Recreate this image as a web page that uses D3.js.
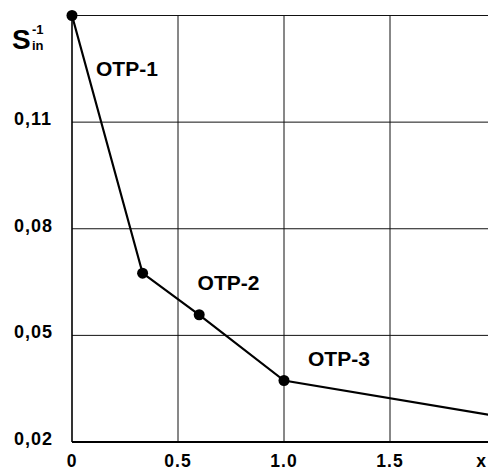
<!DOCTYPE html>
<html>
<head>
<meta charset="utf-8">
<script src="https://cdn.jsdelivr.net/npm/d3@7"></script>
<style>
  html, body { margin: 0; padding: 0; background: #fff; }
  svg { display: block; font-family: "Liberation Sans", Arial, sans-serif; }
</style>
</head>
<body>
<svg id="chart" width="488" height="472"></svg>
<script>
// Inverse selectivity S_in^-1 versus composition x for the OTP series
const xValues = [0, 0.333, 0.60, 1.0, 2.0];
const yValues = [0.140, 0.0675, 0.0558, 0.0373, 0.0273];
const pointLabels = ["OTP-1", "OTP-2", null, "OTP-3"];
const markedPoints = [0, 1, 2, 3];

const xTicks = [0, 0.5, 1.0, 1.5];
const xTickLabels = ["0", "0.5", "1.0", "1.5"];
const yTicks = [0.02, 0.05, 0.08, 0.11, 0.14];
const yTickLabels = ["0,02", "0,05", "0,08", "0,11", ""];

const svg = d3.select("#chart");
const W = 488, H = 472;

const x = d3.scaleLinear().domain([0, 2.0]).range([72, 496]);
const y = d3.scaleLinear().domain([0.02, 0.14]).range([442, 15.5]);

// grid
const grid = svg.append("g").attr("stroke", "#111").attr("stroke-width", 1);
grid.selectAll("line.v").data(xTicks.slice(1)).join("line")
  .attr("x1", d => x(d)).attr("x2", d => x(d))
  .attr("y1", y(0.14)).attr("y2", y(0.02));
grid.selectAll("line.h").data(yTicks.slice(1)).join("line")
  .attr("x1", x(0)).attr("x2", W)
  .attr("y1", d => y(d)).attr("y2", d => y(d));

// axes frame (left and bottom)
svg.append("line").attr("x1", x(0)).attr("x2", x(0))
  .attr("y1", y(0.14)).attr("y2", y(0.02))
  .attr("stroke", "#000").attr("stroke-width", 1.6);
svg.append("line").attr("x1", x(0)).attr("x2", W)
  .attr("y1", y(0.02)).attr("y2", y(0.02))
  .attr("stroke", "#000").attr("stroke-width", 1.8);

// y tick labels
svg.append("g").selectAll("text").data(yTicks).join("text")
  .attr("x", 14).attr("y", d => y(d) - 2)
  .attr("dominant-baseline", "middle")
  .attr("font-size", 18).attr("font-weight", "bold").attr("letter-spacing", 1)
  .text((d, i) => yTickLabels[i]);

// x tick labels
svg.append("g").selectAll("text").data(xTicks).join("text")
  .attr("x", d => x(d)).attr("y", 467)
  .attr("text-anchor", "middle")
  .attr("font-size", 17.5).attr("font-weight", "bold").attr("letter-spacing", 1)
  .text((d, i) => xTickLabels[i]);

svg.append("text").attr("x", 481).attr("y", 467)
  .attr("text-anchor", "middle")
  .attr("font-size", 17.5).attr("font-weight", "bold").text("x");

// y axis title S_in^-1
const title = svg.append("g").attr("font-weight", "bold");
title.append("text").attr("x", 12).attr("y", 49).attr("font-size", 28).text("S");
title.append("text").attr("x", 32).attr("y", 34).attr("font-size", 13).text("-1");
title.append("text").attr("x", 32).attr("y", 50).attr("font-size", 13).text("in");

// data line
const pts = xValues.map((v, i) => [v, yValues[i]]);
svg.append("path")
  .attr("d", d3.line().x(d => x(d[0])).y(d => y(d[1]))(pts))
  .attr("fill", "none").attr("stroke", "#000").attr("stroke-width", 2.2);

svg.append("g").selectAll("circle").data(markedPoints).join("circle")
  .attr("cx", i => x(xValues[i])).attr("cy", i => y(yValues[i]))
  .attr("r", 5.5).attr("fill", "#000");

// point labels
const labelOffsets = [[24, 60], [55, 17], null, [24, -15]];
svg.append("g").selectAll("text")
  .data(markedPoints.filter(i => pointLabels[i]))
  .join("text")
  .attr("x", i => x(xValues[i]) + labelOffsets[i][0])
  .attr("y", i => y(yValues[i]) + labelOffsets[i][1])
  .attr("font-size", 21).attr("font-weight", "bold")
  .text(i => pointLabels[i]);
</script>
</body>
</html>
